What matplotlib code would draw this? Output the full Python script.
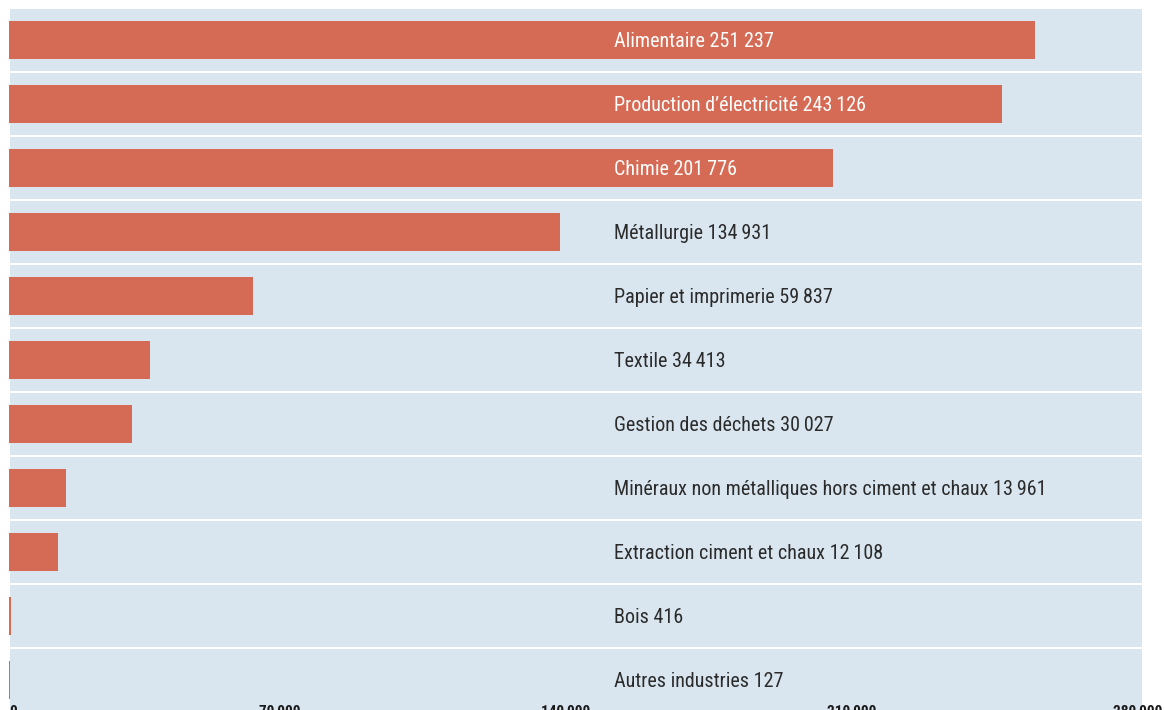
import matplotlib.pyplot as plt
from matplotlib.transforms import ScaledTranslation

# Emissions by industrial sector
sectors = ['Alimentaire', 'Production d\u2019électricité', 'Chimie', 'Métallurgie',
           'Papier et imprimerie', 'Textile', 'Gestion des déchets',
           'Minéraux non métalliques hors ciment et chaux',
           'Extraction ciment et chaux', 'Bois', 'Autres industries']
values = [251237, 243126, 201776, 134931, 59837, 34413, 30027, 13961, 12108, 416, 127]
value_text = ['251 237', '243\u2009126', '201\u2009776', '134\u2009931', '59\u2009837',
              '34\u2009413', '30\u2009027', '13\u2009961', '12\u2009108', '416', '127']
tick_values = [0, 70000, 140000, 210000, 280000]
tick_labels = ['0', '70\u2009000', '140\u2009000', '210\u2009000', '280\u2009000']

BAR = '#d66b55'
BAND = '#d9e6ef'
DARK = '#2b2b2b'

plt.rcParams['font.family'] = ['Roboto Condensed', 'DejaVu Sans']

W, H = 1165, 710
fig = plt.figure(figsize=(W / 100, H / 100), dpi=100)
xmax = 280000
ppu = 0.004085  # pixels per unit
ax = fig.add_axes([9 / W, (H - 712) / H, xmax * ppu / W, 704 / H])
ax.set_xlim(0, xmax)
ax.set_ylim(len(sectors) - 0.5, -0.5)
ax.axis('off')

ys = list(range(len(sectors)))
# light background bands, one per row
ax.barh(ys, [(1142 - 10) / ppu] * len(ys), left=1 / ppu, height=62 / 64, color=BAND)
ax.barh(ys, values, height=38 / 64, color=BAR)

label_x = (614 - 9) / ppu
for y, name, v, vt in zip(ys, sectors, values, value_text):
    color = 'white' if v > label_x else DARK
    ax.text(label_x, y + 0.02, f'{name} {vt}', ha='left', va='center',
            fontsize=14.5, color=color)

shift = ScaledTranslation(-15 / 100, 0, fig.dpi_scale_trans)
for tv, tl in zip(tick_values, tick_labels):
    tr = ax.transData if tv == 0 else ax.transData + shift
    ax.text(tv, len(sectors) - 1 + 0.39, tl, ha='left' if tv == 0 else 'center',
            va='top', fontsize=11, fontweight='bold', color='#1a1a1a',
            clip_on=False, transform=tr)

fig.savefig('out.png', dpi=100, facecolor='white')
